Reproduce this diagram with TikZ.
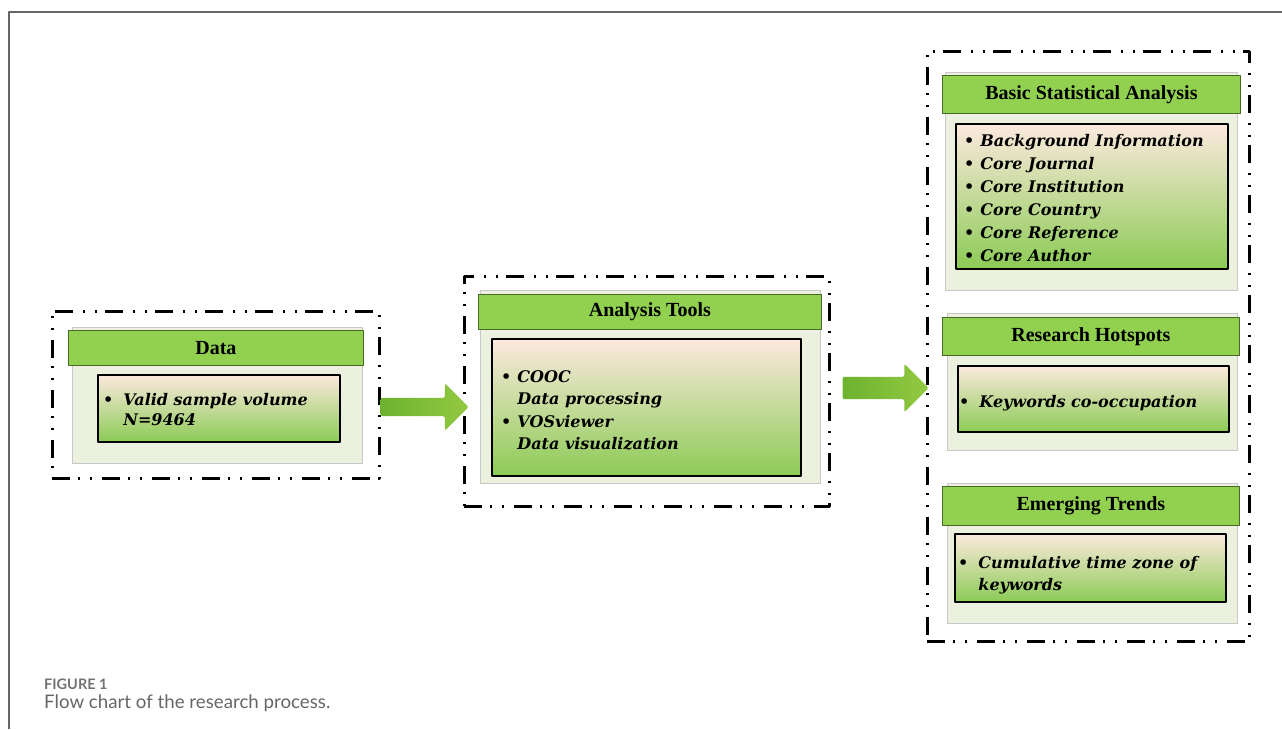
\documentclass[tikz,border=0pt]{standalone}
\usepackage{fontspec}
\setmainfont{Liberation Serif}
\newfontfamily\itemfont{DejaVu Serif}
\newfontfamily\capfont{Lato}
\usetikzlibrary{shapes.arrows}
\definecolor{hdgreen}{HTML}{92D050}
\definecolor{panelgreen}{HTML}{EBF1DE}
\definecolor{peach}{HTML}{FCE9DE}
\definecolor{boxgreen}{HTML}{8CCB55}
\definecolor{arrowdark}{HTML}{6DB22F}
\definecolor{arrowlight}{HTML}{93C942}
\newcommand\bl{\textup{\textbullet}}
\begin{document}
\begin{tikzpicture}[x=1pt,y=-1pt,line join=round,
  group/.style={draw,line width=2.6pt,dash pattern=on 18pt off 8pt on 2pt off 10pt on 2pt off 10pt,anchor=north west,inner sep=0pt},
  panel/.style={draw=black!22,fill=panelgreen,line width=.8pt,anchor=north west,inner sep=0pt},
  header/.style={draw=black!50!hdgreen,fill=hdgreen,line width=.8pt,anchor=north west,inner sep=0pt,font=\fontsize{20}{24}\selectfont\bfseries},
  inbox/.style={draw=black,line width=1.6pt,top color=peach,bottom color=boxgreen,anchor=north west,inner sep=0pt},
  items/.style={anchor=west,align=left,inner sep=0pt,font=\fontsize{16}{22.5}\selectfont\itemfont\bfseries\itshape},
  blockarrow/.style={single arrow,single arrow head extend=14.5pt,single arrow head indent=0pt,minimum height=88pt,inner sep=0pt,rounded corners=2pt,left color=arrowdark,right color=arrowlight}]
\useasboundingbox (0,0) rectangle (1282,729);
% frame
\draw[black!60,line width=1.4pt] (9,729)--(9,12)--(1282,12);
% data
\node[group,minimum width=327pt,minimum height=167pt] (gdata) at (51,310) {};
\node[panel,minimum width=290pt,minimum height=136pt] (pdata) at (72,327) {};
\node[header,minimum width=295pt,minimum height=35pt] (hdata) at (68,330) {Data};
\node[inbox,minimum width=242pt,minimum height=67pt] (bdata) at (97,374) {};
\node[items,font=\fontsize{16}{20}\selectfont\itemfont\bfseries\itshape] (tdata) at ([xshift=6pt,yshift=-3pt]bdata.west)
  {\begin{tabular}{@{}l@{\hspace{10pt}}l@{}}\bl & Valid sample volume\\ & N=9464\end{tabular}};
% tools
\node[group,minimum width=365pt,minimum height=230pt] (gtools) at (463,275) {};
\node[panel,minimum width=340pt,minimum height=193pt] (ptools) at (480,290) {};
\node[header,minimum width=343pt,minimum height=35pt] (htools) at (478,294) {Analysis Tools};
\node[inbox,minimum width=309pt,minimum height=137pt] (btools) at (491,338) {};
\node[items] (ttools) at ([xshift=10pt,yshift=-4pt]btools.west)
  {\begin{tabular}{@{}l@{\hspace{6pt}}l@{}}\bl & COOC\\ & Data processing\\ \bl & VOSviewer\\ & Data visualization\end{tabular}};
% results
\node[group,minimum width=322pt,minimum height=590pt] (gres) at (926,50) {};
\node[panel,minimum width=292pt,minimum height=218pt] (pbasic) at (945,72) {};
\node[header,minimum width=298pt,minimum height=38pt] (hbasic) at (942,75) {Basic Statistical Analysis};
\node[inbox,minimum width=272pt,minimum height=145pt] (bbasic) at (955,123) {};
\node[items,font=\fontsize{16}{23}\selectfont\itemfont\bfseries\itshape] (tbasic) at ([xshift=9pt,yshift=-3pt]bbasic.west)
  {\begin{tabular}{@{}l@{\hspace{6pt}}l@{}}\bl & Background Information\\ \bl & Core Journal\\ \bl & Core Institution\\
   \bl & Core Country\\ \bl & Core Reference\\ \bl & Core Author\end{tabular}};
\node[panel,minimum width=290pt,minimum height=137pt] (phot) at (947,313) {};
\node[header,minimum width=297pt,minimum height=38pt] (hhot) at (942,317) {Research Hotspots};
\node[inbox,minimum width=271pt,minimum height=66pt] (bhot) at (957,365) {};
\node[items] (thot) at ([xshift=2pt,yshift=-4pt]bhot.west)
  {\begin{tabular}{@{}l@{\hspace{10pt}}l@{}}\bl & Keywords co-occupation\end{tabular}};
\node[panel,minimum width=290pt,minimum height=140pt] (ptrend) at (947,483) {};
\node[header,minimum width=297pt,minimum height=39pt] (htrend) at (942,486) {Emerging Trends};
\node[inbox,minimum width=271pt,minimum height=68pt] (btrend) at (954,533) {};
\node[items,font=\fontsize{16}{22}\selectfont\itemfont\bfseries\itshape] (ttrend) at ([xshift=4pt,yshift=-7pt]btrend.west)
  {\begin{tabular}{@{}l@{\hspace{10pt}}l@{}}\bl & Cumulative time zone of\\ & keywords\end{tabular}};
% arrows
\node[blockarrow] (a1) at (420,407) {\vrule height 9pt depth 9pt width 0pt};
\node[blockarrow,minimum height=86pt,single arrow head extend=13pt] (a2) at (880,388) {\vrule height 11pt depth 11pt width 0pt};
% caption
\node[anchor=base west,inner sep=0pt,font=\capfont\bfseries\fontsize{14.5}{17}\selectfont,text=black!55] (fig) at (44,689) {FIGURE 1};
\node[anchor=base west,inner sep=0pt,font=\capfont\fontsize{18.7}{22}\selectfont,text=black!60] (cap) at (44,708) {Flow chart of the research process.};
\end{tikzpicture}
\end{document}
